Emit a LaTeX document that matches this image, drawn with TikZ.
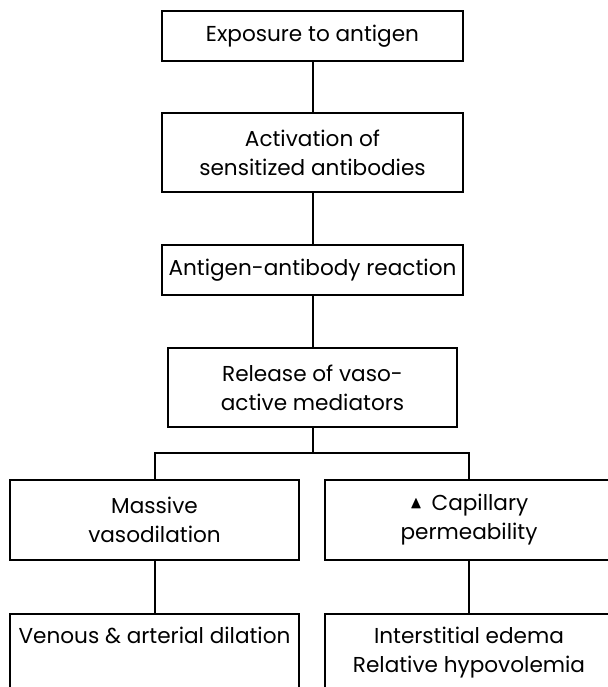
\documentclass[tikz,border=0pt]{standalone}
\usepackage{amssymb}
\usepackage{fontspec}
\setmainfont{Poppins}
\usetikzlibrary{positioning}

\begin{document}
\begin{tikzpicture}[x=0.5pt,y=-0.5pt,
    stepbox/.style={draw,line width=1pt,align=center,inner sep=0pt,
        font=\fontsize{10.8}{14.5}\selectfont},
    steptext/.style={align=center,inner sep=0pt,font=\fontsize{10.8}{14.5}\selectfont},
    link/.style={line width=1pt}]
    \useasboundingbox (0,0) rectangle (608,687);
    \clip (0,0) rectangle (608,687);
    \node[stepbox,minimum width=150.5pt,minimum height=25pt] (expo) at (312.5,36) {Exposure to antigen};
    \node[stepbox,minimum width=150.5pt,minimum height=39.5pt] (activ) at (312.5,152.5) {Activation of\\sensitized antibodies};
    \node[stepbox,minimum width=150.5pt,minimum height=25pt] (react) at (312.5,270) {Antigen-antibody reaction};
    \node[stepbox,minimum width=144.5pt,minimum height=39.5pt] (release) at (312.5,387.5) {Release of vaso-\\active mediators};
    \coordinate (fork) at (312.5,453);
    \node[stepbox,minimum width=144.5pt,minimum height=40pt] (massive) at (154.5,520) {Massive\\vasodilation};
    \node[stepbox,minimum width=144pt,minimum height=40pt] (capil) at (469,520) {\raisebox{1pt}{\scalebox{0.8}{$\blacktriangle$}}\, Capillary\\permeability};
    \node[stepbox,minimum width=144.5pt,minimum height=80pt,anchor=north] (venous) at (154.5,613) {};
    \node[stepbox,minimum width=144pt,minimum height=80pt,anchor=north] (inter) at (469,613) {};
    \node[steptext,below=7pt of venous.north] (venoustxt) {Venous \& arterial dilation};
    \node[steptext,below=7pt of inter.north] (intertxt) {Interstitial edema\\Relative hypovolemia};
    \draw[link] (expo) -- (activ);
    \draw[link] (activ) -- (react);
    \draw[link] (react) -- (release);
    \draw[link] (release.south) -- (fork);
    \draw[link] (massive.north) |- (fork) -| (capil.north);
    \draw[link] (massive) -- (venous);
    \draw[link] (capil) -- (inter);
\end{tikzpicture}
\end{document}
